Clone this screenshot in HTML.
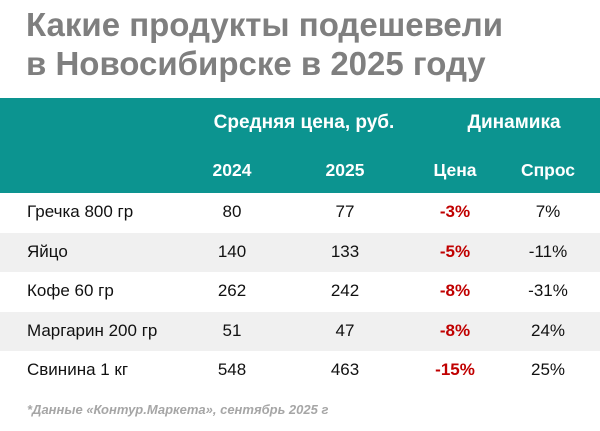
<!DOCTYPE html>
<html><head><meta charset="utf-8"><style>
body{margin:0;width:600px;height:431px;background:#fff;font-family:"Liberation Sans","Noto Sans CJK SC",sans-serif;position:relative;overflow:hidden}
.t{position:absolute;left:26px;font-weight:bold;font-size:33px;color:#7f7f7f;white-space:nowrap;line-height:1}
.hdr{position:absolute;left:0;top:98px;width:600px;height:95px;background:#0c9490}
.c{position:absolute;font-size:17px;line-height:20px;color:#111;text-align:center;white-space:nowrap}
.h{color:#fff;font-weight:bold;font-size:17.5px}
.h1{font-size:19px}
.row{position:absolute;left:0;width:600px;height:39.5px}
.g{background:#f0f0f0}
.red{color:#c00000;font-weight:bold}
.foot{position:absolute;left:27px;top:402px;font-size:13px;font-style:italic;font-weight:bold;color:#a6a6a6}
</style></head><body>
<div class="t" style="top:8px">Какие продукты подешевели</div>
<div class="t" style="top:47px">в Новосибирске в 2025 году</div>
<div class="hdr"></div>
<div class="c h h1" style="left:194px;width:220px;top:113px">Средняя цена, руб.</div>
<div class="c h h1" style="left:434px;width:160px;top:113px">Динамика</div>
<div class="c h" style="left:192px;width:80px;top:160px">2024</div>
<div class="c h" style="left:305px;width:80px;top:160px">2025</div>
<div class="c h" style="left:415px;width:80px;top:160px">Цена</div>
<div class="c h" style="left:508px;width:80px;top:160px">Спрос</div>
<div id="rows"></div>
<div class="foot">*Данные «Контур.Маркета», сентябрь 2025 г</div>
<script>
const products=["Гречка 800 гр","Яйцо","Кофе 60 гр","Маргарин 200 гр","Свинина 1 кг"];
const price2024=[80,140,262,51,548];
const price2025=[77,133,242,47,463];
const priceChange=["-3%","-5%","-8%","-8%","-15%"];
const demandChange=["7%","-11%","-31%","24%","25%"];
const root=document.getElementById('rows');
products.forEach((p,i)=>{
  const top=193+i*39.5;
  const r=document.createElement('div');
  r.className='row'+(i%2?' g':'');
  r.style.top=top+'px';
  
  
  root.appendChild(r);
  const cells=[[p,27,null,''],[price2024[i],192,80,''],[price2025[i],305,80,''],[priceChange[i],415,80,'red'],[demandChange[i],508,80,'']];
  cells.forEach((c,j)=>{
    const d=document.createElement('div');
    d.className='c '+c[3];
    d.textContent=c[0];
    d.style.left=c[1]+'px';
    d.style.top=(top+9)+'px';
    if(c[2])d.style.width=c[2]+'px';else d.style.textAlign='left';
    
    
    root.appendChild(d);
  });
});
</script>
</body></html>
